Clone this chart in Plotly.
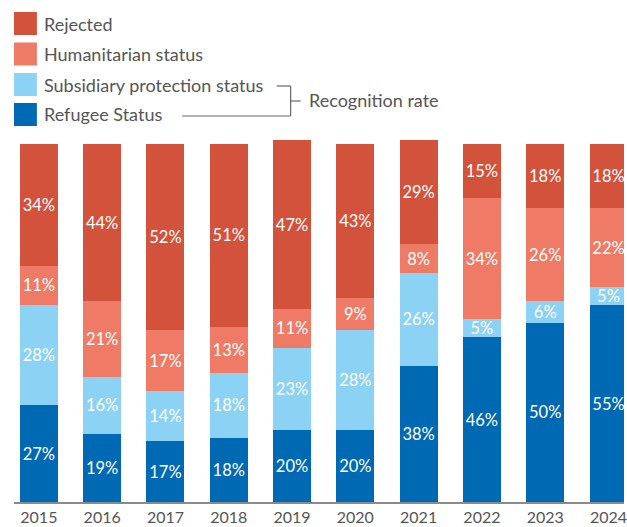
import plotly.graph_objects as go

# Asylum decisions by outcome, share of all decisions (%)
years = [2015, 2016, 2017, 2018, 2019, 2020, 2021, 2022, 2023, 2024]
refugee = [27, 19, 17, 18, 20, 20, 38, 46, 50, 55]
subsidiary = [28, 16, 14, 18, 23, 28, 26, 5, 6, 5]
humanitarian = [11, 21, 17, 13, 11, 9, 8, 34, 26, 22]
rejected = [34, 44, 52, 51, 47, 43, 29, 15, 18, 18]

series = [
    ("Refugee Status", refugee, "#0069b4"),
    ("Subsidiary protection status", subsidiary, "#8bd2f5"),
    ("Humanitarian status", humanitarian, "#ef7b67"),
    ("Rejected", rejected, "#d3523c"),
]

FONT = "Lato, 'Open Sans', sans-serif"
W, H = 627, 527
L, R, T, B = 14, 0, 140, 25

fig = go.Figure()
for name, vals, col in series:
    fig.add_trace(go.Bar(
        x=years, y=vals, name=name, marker=dict(color=col, line=dict(width=0)),
        width=0.6, text=[f"{v}%" for v in vals], textposition="inside",
        insidetextanchor="middle", textangle=0,
        textfont=dict(color="white", size=16.5, family=FONT),
        hoverinfo="skip", showlegend=False,
    ))

# pixel -> paper helpers for the legend block above the plot
pw, ph = W - L - R, H - T - B
def px(x):
    return (x - L) / pw
def py(y):
    return (H - B - y) / ph

shapes, annotations = [], []
legend_rows = [("Rejected", "#d3523c", 23.5), ("Humanitarian status", "#ef7b67", 54),
               ("Subsidiary protection status", "#8bd2f5", 84.5), ("Refugee Status", "#0069b4", 114.5)]
for label, col, cy in legend_rows:
    shapes.append(dict(type="rect", xref="paper", yref="paper",
                       x0=px(14), x1=px(37), y0=py(cy - 11.5), y1=py(cy + 11.5),
                       fillcolor=col, line=dict(width=0)))
    annotations.append(dict(text=label, xref="paper", yref="paper", x=px(42.5), y=py(cy),
                            xanchor="left", yanchor="middle", showarrow=False,
                            font=dict(size=18, color="#555555", family=FONT)))

# bracket grouping the two recognition categories
bc = "#666666"
for x0, y0, x1, y1 in [(278, 86, 292, 86), (183, 116, 292, 116), (292, 86, 292, 116), (292, 101, 302, 101)]:
    shapes.append(dict(type="line", xref="paper", yref="paper",
                       x0=px(x0), x1=px(x1), y0=py(y0), y1=py(y1), line=dict(color=bc, width=1.2)))
annotations.append(dict(text="Recognition rate", xref="paper", yref="paper", x=px(308.5), y=py(100),
                        xanchor="left", yanchor="middle", showarrow=False,
                        font=dict(size=18, color="#555555", family=FONT)))

fig.update_layout(
    barmode="stack", width=W, height=H,
    margin=dict(l=L, r=R, t=T, b=B, pad=0),
    plot_bgcolor="white", paper_bgcolor="white",
    uniformtext=dict(minsize=16.5, mode="show"),
    shapes=shapes, annotations=annotations,
    xaxis=dict(range=[2014.607, 2024.245], tickmode="array", tickvals=years,
               ticktext=[str(y) for y in years], showgrid=False, zeroline=False,
               showline=True, linecolor="#8a8a8a", linewidth=1.5, ticks="",
               ticklabeloverflow="allow",
               tickfont=dict(size=16, color="#555555", family=FONT)),
    yaxis=dict(range=[0, 101.1], visible=False, showgrid=False, zeroline=False),
)

fig.write_html("out.html")
